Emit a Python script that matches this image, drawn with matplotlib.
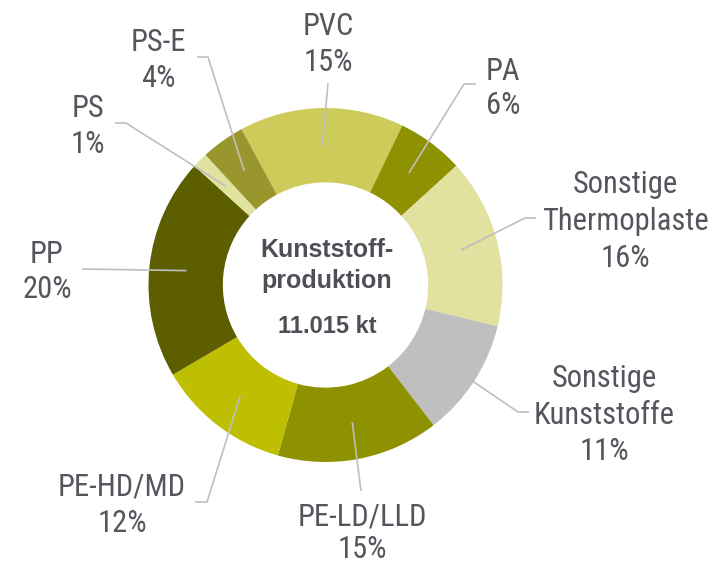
import matplotlib.pyplot as plt
from matplotlib import font_manager as fm
import numpy as np

# Kunststoffproduktion nach Sorten (Anteile in %), im Uhrzeigersinn ab PVC
categories = ["PVC", "PA", "Sonstige\nThermoplaste", "Sonstige\nKunststoffe",
              "PE-LD/LLD", "PE-HD/MD", "PP", "PS", "PS-E"]
shares = [15.0, 6.1, 15.5, 10.8, 14.8, 12.2, 20.2, 1.4, 4.0]
colors = ["#cdcc5a", "#8e9100", "#e1e1a0", "#bfbfbf", "#8e9100",
          "#bdbf00", "#5c5e00", "#e1e1a0", "#99962d"]
center_lines = ["Kunststoff-", "produktion", "11.015 kt"]

# layout: positions in pixels of the 719x565 picture
CX, CY, R = 325.5, 285.0, 177.0


def px(x, y):
    return (x - CX) / R, (CY - y) / R


# baseline of first label line and line spacing
label_pos = [(328, 35), (503, 80), (625, 193), (604, 387), (362, 525),
             (122, 496), (47, 263), (88, 117), (158, 51)]
line_gap = [36, 34, 37, 36.5, 33, 36, 35, 36, 36]
# leader line points on the label side (the wedge end is computed)
leader_pts = [[(328, 83)], [(476, 84), (464, 84)], [(536, 218), (525, 218)],
              [(529, 412), (518, 412)], [(361, 491)], [(195, 502), (207, 502)],
              [(82, 269)], [(115, 123), (126, 123)], [(197, 57), (208, 57)]]

text_col = "#53565c"

# the labels use a narrow face; pick one that is installed
fonts = fm.fontManager.ttflist
names = {f.name for f in fonts}
label_stretch = "normal"
if "Liberation Sans Narrow" in names:
    label_font, label_size = "Liberation Sans Narrow", 22
elif "Roboto Condensed" in names:
    label_font, label_size = "Roboto Condensed", 22
elif any(f.name == "Roboto" and f.stretch == "condensed" for f in fonts):
    label_font, label_size, label_stretch = "Roboto", 22, "condensed"
elif any(f.name == "DejaVu Sans" and f.stretch == "condensed" for f in fonts):
    label_font, label_size, label_stretch = "DejaVu Sans", 19, "condensed"
else:
    label_font, label_size = "Liberation Sans", 19

fig = plt.figure(figsize=(7.19, 5.65), dpi=100)
ax = fig.add_axes([0, 0, 1, 1])
wedges, _ = ax.pie(shares, colors=colors, startangle=118.3, counterclock=False,
                   radius=1.0, wedgeprops=dict(width=0.42, linewidth=0))

for w, name, share, pos, gap, pts in zip(wedges, categories, shares, label_pos,
                                         line_gap, leader_pts):
    mid = np.deg2rad((w.theta1 + w.theta2) / 2)
    anchor = (0.79 * np.cos(mid), 0.79 * np.sin(mid))
    path = [px(*p) for p in pts] + [anchor]
    xs, ys = zip(*path)
    ax.plot(xs, ys, color="#bfbfbf", lw=1.2, solid_capstyle="butt")

    lines = name.split("\n") + [f"{share:.0f}%"]
    for i, line in enumerate(lines):
        tx, ty = px(pos[0], pos[1] + i * gap)
        ax.text(tx, ty, line, ha="center", va="baseline", fontsize=label_size,
                color=text_col, family=[label_font, "DejaVu Sans"],
                fontstretch=label_stretch)

for line, yb, size in zip(center_lines, [257, 288, 333], [18, 18, 17]):
    tx, ty = px(327, yb)
    ax.text(tx, ty, line, ha="center", va="baseline", fontsize=size,
            fontweight="bold", color="#4d4f57", family=["Liberation Sans", "DejaVu Sans"])

x0, y0 = px(0, 565)
x1, y1 = px(719, 0)
ax.set_xlim(x0, x1)
ax.set_ylim(y0, y1)
ax.set_aspect("auto")
ax.axis("off")

plt.savefig("out.png", dpi=100)
